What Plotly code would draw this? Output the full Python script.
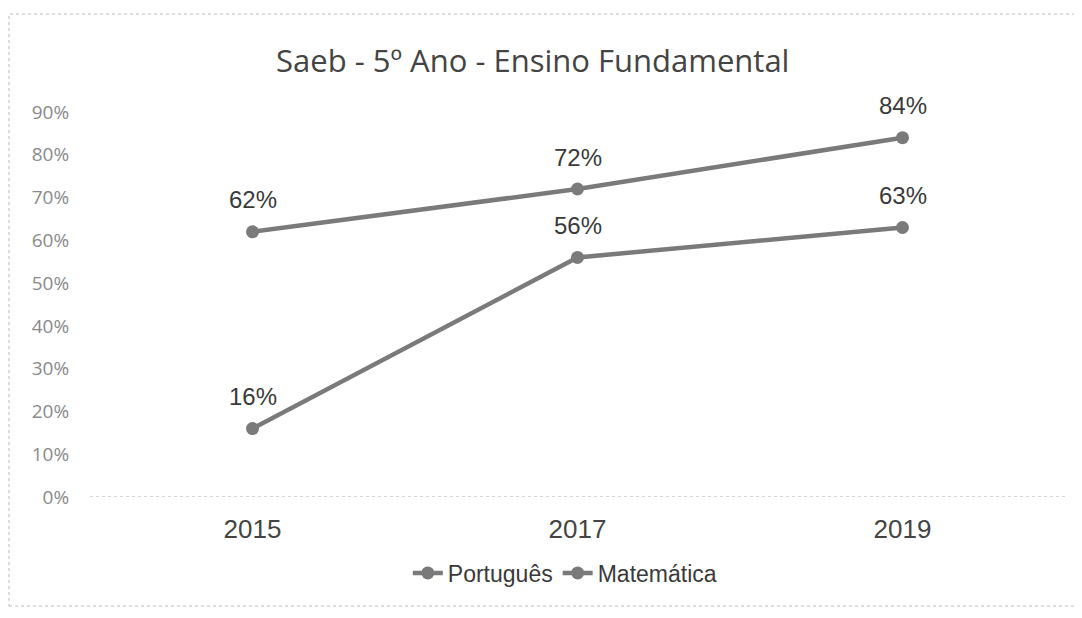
import plotly.graph_objects as go

anos = ["2015", "2017", "2019"]
portugues = [0.62, 0.72, 0.84]
matematica = [0.16, 0.56, 0.63]
series_names = ["Português", "Matemática"]
titulo = "Saeb - 5º Ano - Ensino Fundamental"

line_color = "#7a7a7a"
fig = go.Figure()
for name, vals in zip(series_names, [portugues, matematica]):
    fig.add_trace(go.Scatter(
        x=anos, y=vals, name=name, mode="lines+markers",
        line=dict(color=line_color, width=4.5),
        marker=dict(color=line_color, size=13),
    ))
    for i, v in enumerate(vals):
        fig.add_annotation(x=i, y=v, text=f"{round(v*100)}%", showarrow=False,
                           yshift=32, xref="x", yref="y",
                           font=dict(family="Liberation Sans, Arial", size=24, color="#3a3a3a"))

L, T, R, B = 82, 104, 25, 129
W = 1082 - L - R
H = 618 - T - B
fig.update_layout(
    width=1082, height=618,
    margin=dict(l=L, r=R, t=T, b=B),
    paper_bgcolor="white", plot_bgcolor="white",
    title=dict(text=titulo, x=0.485, xanchor="center", y=1 - 53 / 618, yanchor="middle", yref="container",
               font=dict(family="Open Sans, Lato, sans-serif", size=31, color="#444444")),
    showlegend=True,
    legend=dict(orientation="h", x=0.487, xanchor="center", y=-76 / H, yanchor="middle",
                font=dict(family="Liberation Sans, Arial", size=23, color="#3a3a3a"),
                itemwidth=30, tracegroupgap=0),
    xaxis=dict(type="category", range=[-0.5, 2.5], showgrid=False, showline=False, zeroline=False,
               tickfont=dict(family="Liberation Sans, Arial", size=26, color="#444444"),
               ticks="outside", ticklen=9, tickcolor="rgba(0,0,0,0)"),
    yaxis=dict(range=[0, 0.9], dtick=0.1, tickformat=".0%", showgrid=False, zeroline=False,
               showline=False,
               tickfont=dict(family="Open Sans, sans-serif", size=19, color="#8a8a8a"),
               ticks="outside", ticklen=16, tickcolor="rgba(0,0,0,0)"),
)
# baseline at 0%
fig.add_shape(type="line", xref="paper", yref="y", x0=0, x1=1.0, y0=0, y1=0,
              line=dict(color="#c8c8c8", width=1.5, dash="dot"), layer="below")
# dotted chart border
fig.add_shape(type="rect", xref="paper", yref="paper",
              x0=(1 - L) / W, x1=(1090 - L) / W, y0=(H + T - 598) / H, y1=(H + T - 6) / H,
              line=dict(color="#bbbbbb", width=1, dash="dot"), layer="below")

fig.write_html("out.html")
